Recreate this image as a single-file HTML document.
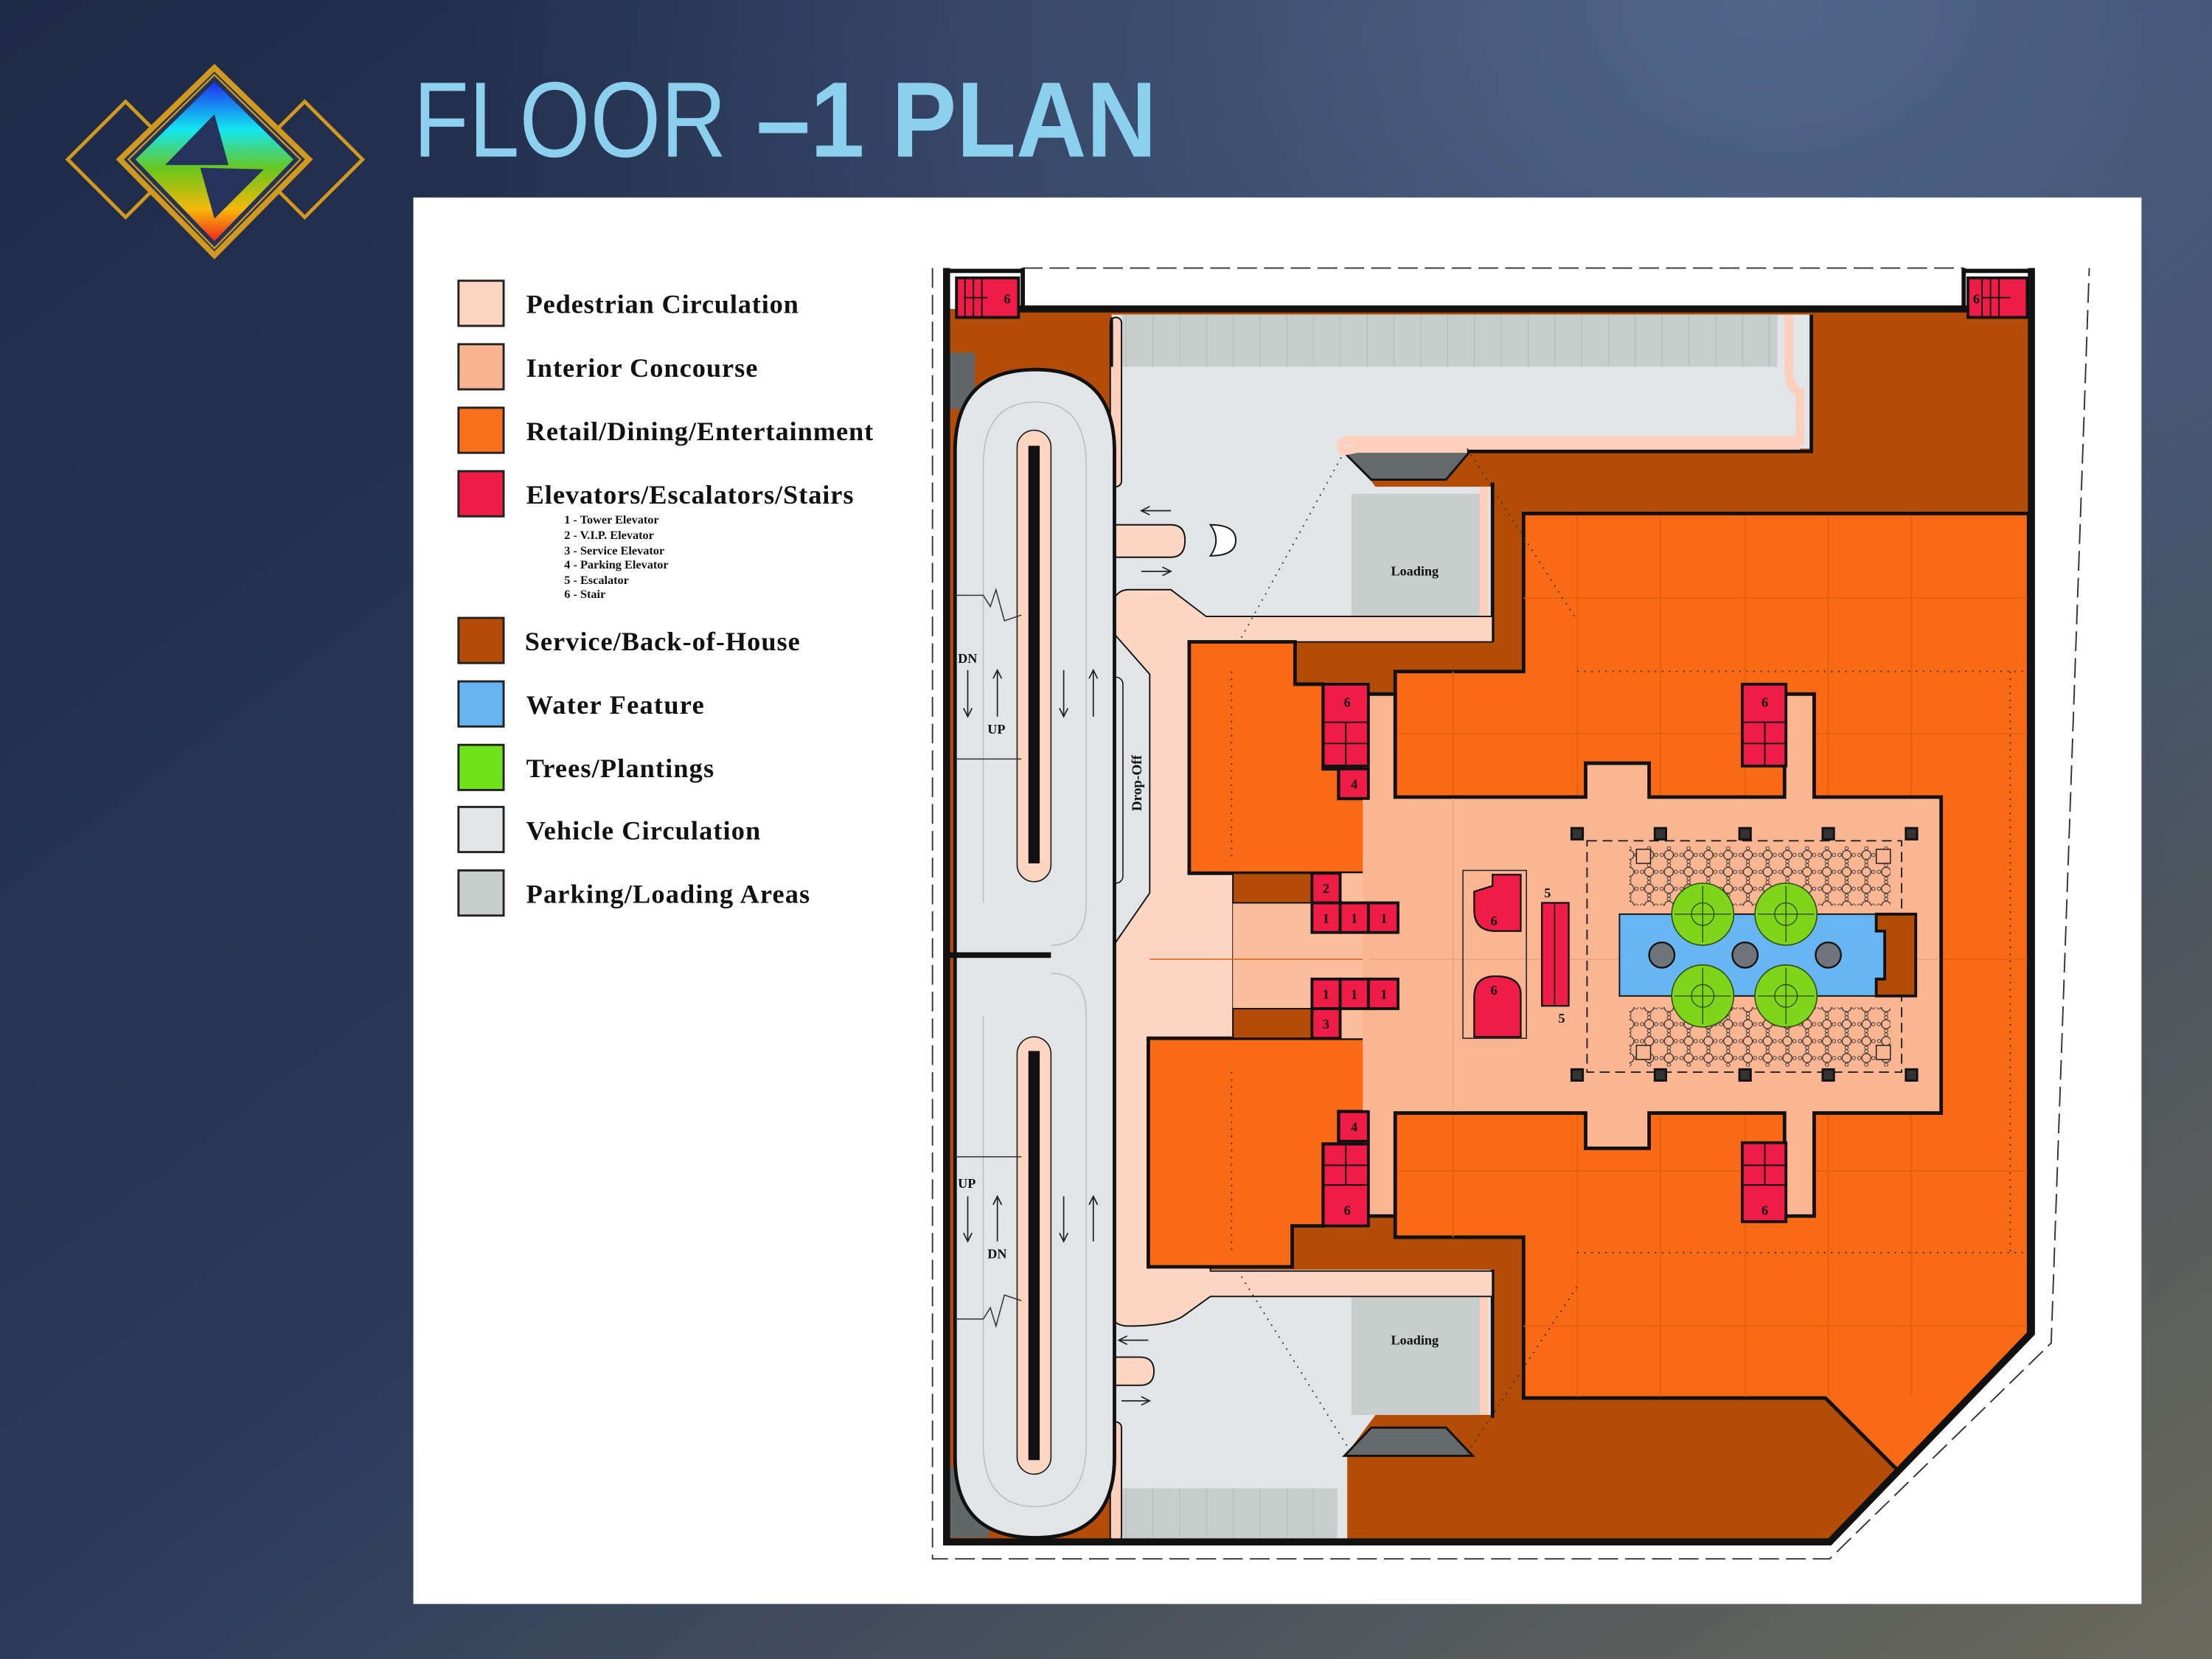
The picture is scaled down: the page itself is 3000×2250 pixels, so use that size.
<!DOCTYPE html>
<html><head><meta charset="utf-8"><style>html,body{margin:0;padding:0;background:#1f2c48}svg{display:block}</style></head>
<body>
<svg width="3000" height="2250" viewBox="0 0 1568 1176" xmlns="http://www.w3.org/2000/svg">
<defs>
<linearGradient id="bg" x1="0" y1="0" x2="1" y2="1">
<stop offset="0" stop-color="#1f2a47"/><stop offset="0.5" stop-color="#2b3b5c"/><stop offset="1" stop-color="#6b6a5c"/></linearGradient>
<radialGradient id="bg2" cx="0.8" cy="0.0" r="0.6"><stop offset="0" stop-color="#5a7296" stop-opacity="0.8"/><stop offset="1" stop-color="#5a7296" stop-opacity="0"/></radialGradient>
<linearGradient id="rb" x1="0" y1="0" x2="0" y2="1">
<stop offset="0" stop-color="#1e2ef0"/><stop offset="0.3" stop-color="#12e6f0"/><stop offset="0.55" stop-color="#6cc61a"/><stop offset="0.8" stop-color="#f6b80a"/><stop offset="1" stop-color="#f2261a"/></linearGradient>
<pattern id="tables" width="14" height="12" patternUnits="userSpaceOnUse">
<circle cx="7" cy="6" r="3.2" fill="none" stroke="#333" stroke-width="0.7"/><circle cx="2" cy="6" r="1.2" fill="none" stroke="#333" stroke-width="0.5"/><circle cx="12" cy="6" r="1.2" fill="none" stroke="#333" stroke-width="0.5"/><circle cx="7" cy="1.3" r="1.2" fill="none" stroke="#333" stroke-width="0.5"/><circle cx="7" cy="10.7" r="1.2" fill="none" stroke="#333" stroke-width="0.5"/></pattern>
<pattern id="stalls" width="19" height="40" patternUnits="userSpaceOnUse"><rect width="19" height="40" fill="#c8cecb"/><line x1="0" y1="0" x2="0" y2="40" stroke="#aab1ae" stroke-width="0.8"/></pattern>
</defs>
<rect width="1568" height="1176" fill="url(#bg)"/>
<rect width="1568" height="1176" fill="url(#bg2)"/>

<!-- Logo -->
<g fill="none" stroke="#d19a1e">
<polygon points="89,72 130,113 89,154 48,113" stroke-width="2.5"/>
<polygon points="216,72 257,113 216,154 175,113" stroke-width="2.5"/>
<polygon points="152,48 219,113 152,181 85,113" fill="#243256" stroke-width="4"/>
<polygon points="152,53 213,113 152,176 91,113" stroke-width="1.2"/>
</g>
<polygon points="152,58 208,113 152,171 96,113" fill="url(#rb)"/>
<polygon points="152,81 117,117 162,117" fill="#26345c"/>
<polygon points="142,119 187,120 152,155" fill="#26345c"/>

<!-- Title -->
<text x="293" y="111" font-family="Liberation Sans, sans-serif" font-size="76" fill="#8ccfee" textLength="222" lengthAdjust="spacingAndGlyphs">FLOOR</text>
<text x="536" y="111" font-family="Liberation Sans, sans-serif" font-size="76" font-weight="bold" fill="#8ccfee" textLength="284" lengthAdjust="spacingAndGlyphs">–1 PLAN</text>

<!-- Panel -->
<rect x="293" y="140" width="1225" height="997" fill="#fff"/>

<!-- Legend -->
<g stroke="#222" stroke-width="1.5">
<rect x="325" y="199" width="32" height="32" fill="#fdd5c3"/>
<rect x="325" y="244" width="32" height="32" fill="#f9b592"/>
<rect x="325" y="289" width="32" height="32" fill="#f86f1e"/>
<rect x="325" y="334" width="32" height="32" fill="#ee1c46"/>
<rect x="325" y="438" width="32" height="32" fill="#b24c08"/>
<rect x="325" y="483" width="32" height="32" fill="#65b3f0"/>
<rect x="325" y="528" width="32" height="32" fill="#6ee31a"/>
<rect x="325" y="572" width="32" height="32" fill="#e3e6e8"/>
<rect x="325" y="617" width="32" height="32" fill="#c8cecb"/>
</g>
<g font-family="Liberation Serif, serif" font-weight="bold" font-size="19" fill="#111" lengthAdjust="spacingAndGlyphs">
<text x="373" y="222" textLength="193">Pedestrian Circulation</text>
<text x="373" y="267" textLength="164">Interior Concourse</text>
<text x="373" y="312" textLength="246">Retail/Dining/Entertainment</text>
<text x="373" y="357" textLength="232">Elevators/Escalators/Stairs</text>
<text x="372" y="461" textLength="195">Service/Back-of-House</text>
<text x="373" y="506" textLength="126">Water Feature</text>
<text x="373" y="551" textLength="133">Trees/Plantings</text>
<text x="373" y="595" textLength="166">Vehicle Circulation</text>
<text x="373" y="640" textLength="201">Parking/Loading Areas</text>
</g>
<g font-family="Liberation Serif, serif" font-weight="bold" font-size="8.5" fill="#111">
<text x="400" y="371">1  -  Tower Elevator</text>
<text x="400" y="382">2  -  V.I.P. Elevator</text>
<text x="400" y="393">3  -  Service Elevator</text>
<text x="400" y="403">4  -  Parking Elevator</text>
<text x="400" y="414">5  -  Escalator</text>
<text x="400" y="424">6  -  Stair</text>
</g>

<!-- Plan -->
<polyline points="661,190 661,1105 1297,1105 1454,952 1481,190" fill="none" stroke="#333" stroke-width="1" stroke-dasharray="14,5"/>
<line x1="725" y1="190" x2="1392" y2="190" stroke="#333" stroke-width="1" stroke-dasharray="14,5"/>
<polygon points="673,219 1440,219 1440,945 1297,1093 673,1093" fill="#b34c06"/>

<!-- vehicle gray -->
<polygon points="788,223 1285,223 1285,318 955,318 975,345 1058,345 1058,440 855,440 850,455 843,455 843,900 1058,900 1058,1003 975,1003 955,1030 955,1091 788,1091" fill="#e2e5e7"/>
<rect x="795" y="223" width="465" height="37" fill="url(#stalls)"/>
<rect x="795" y="1055" width="153" height="36" fill="url(#stalls)"/>
<rect x="958" y="350" width="94" height="87" fill="#c8cecb"/>
<rect x="958" y="918" width="94" height="85" fill="#c8cecb"/>
<polygon points="952,320 1042,320 1025,340 972,340" fill="#656a6a" stroke="#111" stroke-width="1.5"/>
<polygon points="972,1012 1025,1012 1044,1032 953,1032" fill="#656a6a" stroke="#111" stroke-width="1.5"/>
<!-- peach borders around top vehicle area -->
<path d="M1268,223 L1268,262 Q1268,276 1276,278 L1276,312 L955,312 Q948,314 952,320 L962,318 L1276,318" fill="none" stroke="#fcd0bc" stroke-width="6"/>
<path d="M1284,223 L1284,320 L1040,320" fill="none" stroke="#111" stroke-width="2.5"/>
<path d="M1052,345 L1052,437 M1052,918 L1052,1003" stroke="#fcd0bc" stroke-width="6"/>
<path d="M1058,342 L1058,455 M1058,900 L1058,1005" stroke="#111" stroke-width="2.5"/>
<rect x="787" y="225" width="8" height="120" rx="4" fill="#fcd0bc" stroke="#111" stroke-width="1"/>
<rect x="787" y="1008" width="8" height="85" rx="4" fill="#fcd0bc" stroke="#111" stroke-width="1"/>

<!-- pedestrian peach column -->
<path d="M800,418 L830,418 L855,437 L1058,437 L1058,455 L843,455 L843,619 L874,619 L874,736 L814,736 L814,898 L858,898 L858,901 L1058,901 L1058,919 L858,919 L840,932 Q830,940 800,940 Q786,940 786,925 L786,675 L815,633 L815,478 L786,445 Q786,418 800,418 Z" fill="#fcd5c3" stroke="#111" stroke-width="1"/>
<rect x="786" y="480" width="10" height="146" rx="5" fill="#e2e5e7" stroke="#111" stroke-width="0.8"/>
<text transform="translate(809,575) rotate(-90)" font-family="Liberation Serif, serif" font-weight="bold" font-size="10" fill="#111">Drop-Off</text>
<path d="M800,372 L830,372 Q840,372 840,383 Q840,395 830,395 L787,395 L787,372 Z" fill="#fcd5c3" stroke="#111" stroke-width="1"/>
<path d="M858,372 Q876,372 876,383 Q876,394 858,394 Q866,383 858,372 Z" fill="#fff" stroke="#111" stroke-width="1"/>
<path d="M786,962 L808,962 Q818,962 818,972 Q818,982 808,982 L786,982 Z" fill="#fcd5c3" stroke="#111" stroke-width="1"/>

<!-- ramp -->
<rect x="673" y="250" width="18" height="40" fill="#616666"/>
<rect x="673" y="1040" width="28" height="50" fill="#616666"/>
<path d="M677,320 Q677,262 734,262 Q790,262 790,320 L790,1033 Q790,1090 734,1090 Q677,1090 677,1033 Z" fill="#e2e5e7" stroke="#111" stroke-width="2.5"/>
<path d="M697,330 Q697,285 734,285 Q770,285 770,330 L770,640 Q770,670 745,670 M697,330 L697,640" fill="none" stroke="#b9bdbf" stroke-width="0.8"/>
<path d="M697,1023 Q697,1068 734,1068 Q770,1068 770,1023 L770,720 Q770,690 745,690 M697,1023 L697,720" fill="none" stroke="#b9bdbf" stroke-width="0.8"/>
<line x1="673" y1="677" x2="745" y2="677" stroke="#111" stroke-width="4"/>
<rect x="721" y="305" width="24" height="320" rx="12" fill="#fcd5c3" stroke="#111" stroke-width="0.8"/>
<rect x="729" y="316" width="8" height="296" fill="#111"/>
<rect x="721" y="735" width="24" height="310" rx="12" fill="#fcd5c3" stroke="#111" stroke-width="0.8"/>
<rect x="729" y="745" width="8" height="290" fill="#111"/>
<path d="M677,422 L697,422 L702,430 L706,418 L712,440 L724,436 M677,538 L724,538 M677,820 L724,820 M677,935 L697,935 L702,927 L706,940 L712,918 L724,922" fill="none" stroke="#333" stroke-width="0.8"/>
<g font-family="Liberation Serif, serif" font-weight="bold" font-size="9.5" fill="#111">
<text x="679" y="470">DN</text><text x="700" y="520">UP</text>
<text x="679" y="842">UP</text><text x="700" y="892">DN</text>
<text x="986" y="408">Loading</text><text x="986" y="953">Loading</text>
</g>
<g stroke="#222" stroke-width="0.9" fill="none">
<path d="M686,475 L686,508 M683,502 L686,508 L689,502"/>
<path d="M707,508 L707,475 M704,481 L707,475 L710,481"/>
<path d="M754,475 L754,508 M751,502 L754,508 L757,502"/>
<path d="M775,508 L775,475 M772,481 L775,475 L778,481"/>
<path d="M686,848 L686,880 M683,874 L686,880 L689,874"/>
<path d="M707,880 L707,848 M704,854 L707,848 L710,854"/>
<path d="M754,848 L754,880 M751,874 L754,880 L757,874"/>
<path d="M775,880 L775,848 M772,854 L775,848 L778,854"/>
<path d="M809,362 L830,362 M815,359 L809,362 L815,365"/>
<path d="M809,405 L830,405 M824,402 L830,405 L824,408"/>
<path d="M793,950 L814,950 M799,947 L793,950 L799,953"/>
<path d="M795,993 L815,993 M809,990 L815,993 L809,996"/>
</g>

<!-- left orange blocks and corridor -->
<polygon points="843,455 918,455 918,485 938,485 938,545 949,545 949,566 969,566 969,619 843,619" fill="#f86a14" stroke="#111" stroke-width="2.5"/>
<polygon points="814,736 969,736 969,788 949,788 949,811 938,811 938,869 916,869 916,898 814,898" fill="#f86a14" stroke="#111" stroke-width="2.5"/>
<rect x="874" y="619" width="95" height="117" fill="#fbbf9e"/>
<rect x="874" y="619" width="56" height="21" fill="#b34c06" stroke="#111" stroke-width="1"/>
<rect x="874" y="715" width="56" height="21" fill="#b34c06" stroke="#111" stroke-width="1"/>

<!-- big orange -->
<polygon points="1080,364 1438,364 1438,945 1345,1042 1294,991 1080,991 1080,877 989,877 989,476 1080,476" fill="#f86a14" stroke="#111" stroke-width="2.5"/>
<g stroke="#e45c10" stroke-width="0.8">
<line x1="1118" y1="366" x2="1118" y2="990"/><line x1="1177" y1="366" x2="1177" y2="990"/><line x1="1237" y1="366" x2="1237" y2="990"/><line x1="1296" y1="366" x2="1296" y2="990"/><line x1="1355" y1="366" x2="1355" y2="990"/>
<line x1="1080" y1="424" x2="1437" y2="424"/><line x1="1080" y1="940" x2="1437" y2="940"/><line x1="990" y1="520" x2="1437" y2="520"/><line x1="990" y1="830" x2="1437" y2="830"/>
<line x1="875" y1="680" x2="1437" y2="680"/><line x1="815" y1="680" x2="875" y2="680"/><line x1="1030" y1="476" x2="1030" y2="877"/>
</g>
<g stroke="#333" stroke-width="1" stroke-dasharray="1,4" fill="none">
<line x1="1118" y1="476" x2="1437" y2="476"/><line x1="1118" y1="888" x2="1437" y2="888"/>
<line x1="1425" y1="476" x2="1425" y2="888"/><line x1="873" y1="476" x2="873" y2="610"/><line x1="873" y1="760" x2="873" y2="890"/>
<line x1="880" y1="452" x2="952" y2="322"/><line x1="880" y1="905" x2="958" y2="1030"/>
<line x1="1040" y1="318" x2="1118" y2="440"/><line x1="1040" y1="1030" x2="1118" y2="912"/>
</g>
<!-- concourse -->
<polygon points="969,492 989,492 989,565 1124,565 1124,541 1169,541 1169,565 1265,565 1265,492 1286,492 1286,565 1376,565 1376,789 1286,789 1286,862 1265,862 1265,789 1169,789 1169,814 1124,814 1124,789 989,789 989,862 969,862" fill="#fab592" stroke="#111" stroke-width="2.5"/>
<rect x="966" y="494" width="6" height="366" fill="#fab592"/>
<g stroke="#eaa07c" stroke-width="0.7"><line x1="971" y1="680" x2="1375" y2="680"/><line x1="1030" y1="566" x2="1030" y2="788"/></g>

<!-- atrium -->
<rect x="1125" y="596" width="223" height="164" fill="none" stroke="#222" stroke-width="1" stroke-dasharray="7,4"/>
<rect x="1155" y="600" width="185" height="42" fill="url(#tables)"/>
<rect x="1155" y="714" width="185" height="42" fill="url(#tables)"/>
<g fill="#fab592" stroke="#222" stroke-width="0.8">
<rect x="1160" y="602" width="10" height="10"/><rect x="1330" y="602" width="10" height="10"/><rect x="1160" y="741" width="10" height="10"/><rect x="1330" y="741" width="10" height="10"/>
</g>
<g fill="#333" stroke="#111" stroke-width="1.5">
<rect x="1114" y="587" width="8" height="8"/><rect x="1173" y="587" width="8" height="8"/><rect x="1233" y="587" width="8" height="8"/><rect x="1292" y="587" width="8" height="8"/><rect x="1351" y="587" width="8" height="8"/>
<rect x="1114" y="758" width="8" height="8"/><rect x="1173" y="758" width="8" height="8"/><rect x="1233" y="758" width="8" height="8"/><rect x="1292" y="758" width="8" height="8"/><rect x="1351" y="758" width="8" height="8"/>
</g>
<rect x="1148" y="648" width="190" height="58" fill="#67b5f1" stroke="#111" stroke-width="1"/>
<path d="M1330,648 L1358,648 L1358,706 L1330,706 L1330,694 L1336,694 L1336,660 L1330,660 Z" fill="#b34c06" stroke="#111" stroke-width="2"/>
<g fill="#6f7478" stroke="#111" stroke-width="1.2"><circle cx="1178" cy="677" r="9"/><circle cx="1237" cy="677" r="9"/><circle cx="1296" cy="677" r="9"/></g>
<g fill="#7fd41c" stroke="#2b4a0a" stroke-width="0.8">
<circle cx="1207" cy="648" r="22"/><circle cx="1266" cy="648" r="22"/><circle cx="1207" cy="706" r="22"/><circle cx="1266" cy="706" r="22"/>
</g>
<g fill="none" stroke="#2b4a0a" stroke-width="0.7">
<circle cx="1207" cy="648" r="8"/><circle cx="1266" cy="648" r="8"/><circle cx="1207" cy="706" r="8"/><circle cx="1266" cy="706" r="8"/>
<path d="M1187,648 H1227 M1207,628 V668 M1246,648 H1286 M1266,628 V668 M1187,706 H1227 M1207,686 V726 M1246,706 H1286 M1266,686 V726"/>
</g>

<!-- escalator / spiral stair -->
<rect x="1037" y="617" width="45" height="119" fill="none" stroke="#222" stroke-width="0.8"/>
<path d="M1058,620 L1078,620 L1078,660 L1060,660 Q1045,660 1045,645 L1045,632 L1058,628 Z" fill="#ee1c46" stroke="#111" stroke-width="1.2"/>
<path d="M1060,692 Q1045,692 1045,707 L1045,735 L1078,735 L1078,705 Q1078,692 1060,692 Z" fill="#ee1c46" stroke="#111" stroke-width="1.2"/>
<rect x="1093" y="640" width="19" height="73" fill="#ee1c46" stroke="#111" stroke-width="1.2"/>
<line x1="1102" y1="640" x2="1102" y2="713" stroke="#111" stroke-width="0.8"/>

<!-- elevators / stairs -->
<g fill="#ee1c46" stroke="#111" stroke-width="2">
<rect x="678" y="197" width="44" height="28"/><rect x="1395" y="197" width="42" height="28"/>
<rect x="938" y="485" width="32" height="58"/><rect x="949" y="545" width="21" height="21"/>
<rect x="1235" y="485" width="31" height="58"/>
<rect x="938" y="811" width="32" height="58"/><rect x="949" y="788" width="21" height="21"/>
<rect x="1235" y="810" width="31" height="56"/>
<rect x="930" y="619" width="20" height="21"/>
<rect x="930" y="640" width="20" height="21"/><rect x="950" y="640" width="20" height="21"/><rect x="970" y="640" width="21" height="21"/>
<rect x="930" y="694" width="20" height="21"/><rect x="950" y="694" width="20" height="21"/><rect x="970" y="694" width="21" height="21"/>
<rect x="930" y="715" width="20" height="21"/>
</g>
<g stroke="#111" stroke-width="1" fill="none">
<path d="M938,512 H970 M938,527 H970 M954,512 V543 M1235,512 H1266 M1235,527 H1266 M1251,512 V543"/>
<path d="M938,826 H970 M938,840 H970 M954,811 V840 M1235,826 H1266 M1235,840 H1266 M1251,810 V840"/>
<path d="M684,197 V225 M690,197 V225 M696,197 V225 M684,211 H700 M1405,197 V225 M1411,197 V225 M1417,197 V225 M1405,211 H1425"/>
</g>
<g font-family="Liberation Serif, serif" font-weight="bold" font-size="9.5" fill="#111" text-anchor="middle">
<text x="714" y="215">6</text><text x="1401" y="215">6</text>
<text x="955" y="501">6</text><text x="960" y="559">4</text><text x="1251" y="501">6</text>
<text x="955" y="861">6</text><text x="960" y="802">4</text><text x="1251" y="861">6</text>
<text x="940" y="633">2</text><text x="940" y="654">1</text><text x="960" y="654">1</text><text x="981" y="654">1</text>
<text x="940" y="708">1</text><text x="960" y="708">1</text><text x="981" y="708">1</text><text x="940" y="729">3</text>
<text x="1059" y="656">6</text><text x="1059" y="705">6</text>
<text x="1097" y="636">5</text><text x="1107" y="725">5</text>
</g>

<!-- outer walls -->
<polyline points="671,190 671,1093 1297,1093 1440,945 1440,190" fill="none" stroke="#111" stroke-width="5"/>
<line x1="722" y1="219" x2="1395" y2="219" stroke="#111" stroke-width="5"/>
<line x1="671" y1="192" x2="725" y2="192" stroke="#111" stroke-width="3"/>
<line x1="1392" y1="192" x2="1440" y2="192" stroke="#111" stroke-width="3"/>
<line x1="725" y1="190" x2="725" y2="219" stroke="#111" stroke-width="3"/>
<line x1="1392" y1="190" x2="1392" y2="219" stroke="#111" stroke-width="3"/>
<polyline points="1294,991 1345,1042" stroke="#111" stroke-width="2.5"/>
<line x1="788" y1="225" x2="788" y2="260" stroke="#111" stroke-width="2"/>
</svg>
</body></html>
